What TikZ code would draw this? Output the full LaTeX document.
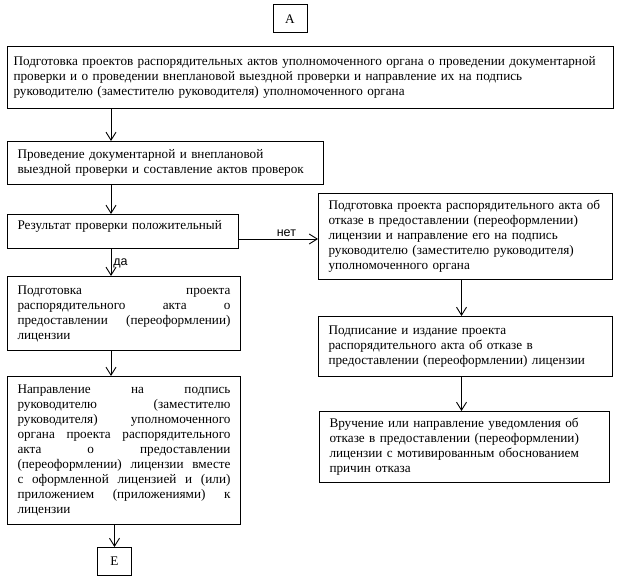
\documentclass[tikz,border=0pt]{standalone}
\usepackage{fontspec}
\setmainfont{Liberation Serif}
\newfontfamily\labelfont{Liberation Sans}
\usetikzlibrary{arrows.meta}
% one stretched line of a justified box
\newlength{\jwidth}
\setlength{\jwidth}{213pt}
\newcommand{\jline}[1]{\leavevmode\hbox to \jwidth{\spaceskip=\fontdimen2\font plus 1fil\relax #1}\\}

\begin{document}
\begin{tikzpicture}[
    x=1pt, y=-1pt,
    box/.style={draw, line width=1pt, anchor=north west, align=left, inner ysep=3pt,
        font=\fontsize{13.2}{15}\selectfont},
    letter/.style={draw, line width=1pt, minimum width=34pt, minimum height=28pt,
        font=\fontsize{13.2}{15}\selectfont},
    arrow/.style={-{Straight Barb[length=8pt,width=10pt]}, line width=0.9pt},
    answer/.style={font=\labelfont\fontsize{12.5}{15}\selectfont}
]
    \useasboundingbox (0,0) rectangle (636,585);

    % Entry and exit marks
    \node[letter] (A) at (290,19) {А};
    \node[letter] (E) at (114.5,561.5) {Е};

    % Left column
    \node[box, inner xsep=6pt, text width=594pt, minimum height=62pt] (b1) at (7,46)
        {Подготовка проектов распорядительных актов уполномоченного органа о проведении документарной\\
         проверки и о проведении внеплановой выездной проверки и направление их на подпись\\
         руководителю (заместителю руководителя) уполномоченного органа};
    \node[box, inner xsep=10pt, text width=296pt, minimum height=43pt] (b2) at (7,141)
        {Проведение документарной и внеплановой\\
         выездной проверки и составление актов проверок};
    \node[box, inner xsep=10pt, text width=211pt, minimum height=34pt, text depth=14pt] (b3) at (7,214)
        {Результат проверки положительный};
    \node[box, inner xsep=10pt, text width=213pt, minimum height=74pt] (b4) at (7,276)
        {\jline{Подготовка проекта}
         \jline{распорядительного акта о}
         \jline{предоставлении (переоформлении)}
         лицензии};
    \node[box, inner xsep=10pt, text width=213pt, minimum height=148pt] (b5) at (7,376)
        {\jline{Направление на подпись}
         \jline{руководителю (заместителю}
         \jline{руководителя) уполномоченного}
         \jline{органа проекта распорядительного}
         \jline{акта о предоставлении}
         \jline{(переоформлении) лицензии вместе}
         \jline{с оформленной лицензией и (или)}
         \jline{приложением (приложениями) к}
         лицензии};

    % Right column
    \node[box, inner xsep=10pt, text width=274pt, minimum height=86pt] (r1) at (318,193)
        {Подготовка проекта распорядительного акта об\\
         отказе в предоставлении (переоформлении)\\
         лицензии и направление его на подпись\\
         руководителю (заместителю руководителя)\\
         уполномоченного органа};
    \node[box, inner xsep=10pt, text width=274pt, minimum height=60pt] (r2) at (318,316)
        {Подписание и издание проекта\\
         распорядительного акта об отказе в\\
         предоставлении (переоформлении) лицензии};
    \node[box, inner xsep=10pt, text width=270pt, minimum height=71pt] (r3) at (319,411)
        {Вручение или направление уведомления об\\
         отказе в предоставлении (переоформлении)\\
         лицензии с мотивированным обоснованием\\
         причин отказа};

    % Connectors
    \coordinate (lft) at (111,0);
    \coordinate (rgt) at (461.5,0);
    \coordinate (no) at (0,239);
    \foreach \a/\b in {b1/b2, b2/b3, b4/b5}
        \draw[arrow] (\a.south -| lft) -- (\b.north -| lft);
    \draw[arrow] (b3.south -| lft) -- node[answer, right, pos=0.55, inner sep=2pt] {да} (b4.north -| lft);
    \draw[arrow] (b5.south -| E) -- (E);
    \draw[arrow] (b3.east |- no) -- node[answer, above, pos=0.6, inner sep=2pt] {нет} (r1.west |- no);
    \draw[arrow] (r1.south -| rgt) -- (r2.north -| rgt);
    \draw[arrow] (r2.south -| rgt) -- (r3.north -| rgt);
\end{tikzpicture}
\end{document}
